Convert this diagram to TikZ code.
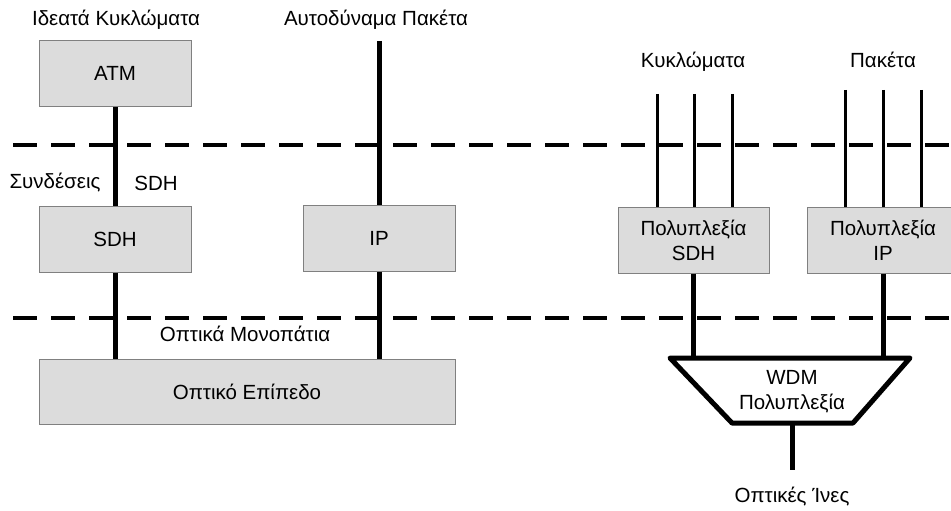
\documentclass[tikz,border=0pt]{standalone}
\usepackage{fontspec}
\setmainfont{Liberation Sans}
\usetikzlibrary{positioning}
\definecolor{grisc}{RGB}{220,220,220}
\definecolor{grisb}{RGB}{128,128,128}
\tikzset{
  caja/.style={draw=grisb, fill=grisc, line width=1pt, align=center, inner sep=0pt},
  et/.style={align=center, inner sep=1pt},
  grueso/.style={line width=5pt},
  fino/.style={line width=3pt},
  capa/.style={line width=3.5pt, dash pattern=on 24pt off 14pt},
}
\begin{document}
\begin{tikzpicture}[x=1pt, y=-1pt, font=\fontsize{20.5}{25}\selectfont]
  \useasboundingbox (0,0) rectangle (951,511);
  % layer boundaries
  \coordinate (l1a) at (13,145);  \coordinate (l1b) at (960,145);
  \coordinate (l2a) at (13,318);  \coordinate (l2b) at (960,318);
  \draw[capa] (l1a) -- (l1b);
  \draw[capa] (l2a) -- (l2b);
  % left side
  \node[et] (tvc) at (116,20) {Ιδεατά Κυκλώματα};
  \node[et] (tdg) at (376,20) {Αυτοδύναμα Πακέτα};
  \node[caja, minimum width=152, minimum height=65] (atm) at (115,73.5) {ATM};
  \node[caja, minimum width=152, minimum height=66] (sdh) at (115,239) {SDH};
  \node[caja, minimum width=152, minimum height=66] (ip) at (379,238) {IP};
  \node[caja, minimum width=416, minimum height=65] (opt) at (247,391.5) {Οπτικό Επίπεδο};
  \node[et] (tsyn) at (55,183) {Συνδέσεις};
  \node[et] (tsdh) at (156,183) {SDH};
  \node[et] (tom) at (245,334) {Οπτικά Μονοπάτια};
  \coordinate (iptop) at (379,41);
  \draw[grueso] (atm) -- (sdh);
  \draw[grueso] (iptop) -- (ip);
  \draw[grueso] (sdh) -- (sdh.south |- opt.north);
  \draw[grueso] (ip) -- (ip.south |- opt.north);
  % right side
  \node[et] (tkyk) at (693,62) {Κυκλώματα};
  \node[et] (tpak) at (883,60) {Πακέτα};
  \node[caja, minimum width=151, minimum height=66] (msdh) at (693.5,240) {Πολυπλεξία\\SDH};
  \node[caja, minimum width=152, minimum height=66] (mip) at (883,240) {Πολυπλεξία\\IP};
  \foreach \x/\n in {657/1,694/2,732/3} {
    \coordinate (k\n) at (\x,94);
    \draw[fino] (k\n) -- (k\n |- msdh.north);
  }
  \foreach \x/\n in {845/1,883/2,921/3} {
    \coordinate (p\n) at (\x,90);
    \draw[fino] (p\n) -- (p\n |- mip.north);
  }
  % WDM multiplexer
  \coordinate (wtl) at (670,358);  \coordinate (wtr) at (910,358);
  \coordinate (wbr) at (853,423);  \coordinate (wbl) at (732,423);
  \draw[grueso, line join=round] (wtl) -- (wtr) -- (wbr) -- (wbl) -- cycle;
  \node[et] (wdm) at (792,392) {WDM\\Πολυπλεξία};
  \draw[grueso] (msdh) -- (msdh.south |- wtl);
  \draw[grueso] (mip) -- (mip.south |- wtl);
  \node[et] (tfib) at (792,497) {Οπτικές Ίνες};
  \coordinate (wbot) at (792,423);
  \coordinate (fend) at (792,470);
  \draw[grueso] (wbot) -- (fend);
\end{tikzpicture}
\end{document}
